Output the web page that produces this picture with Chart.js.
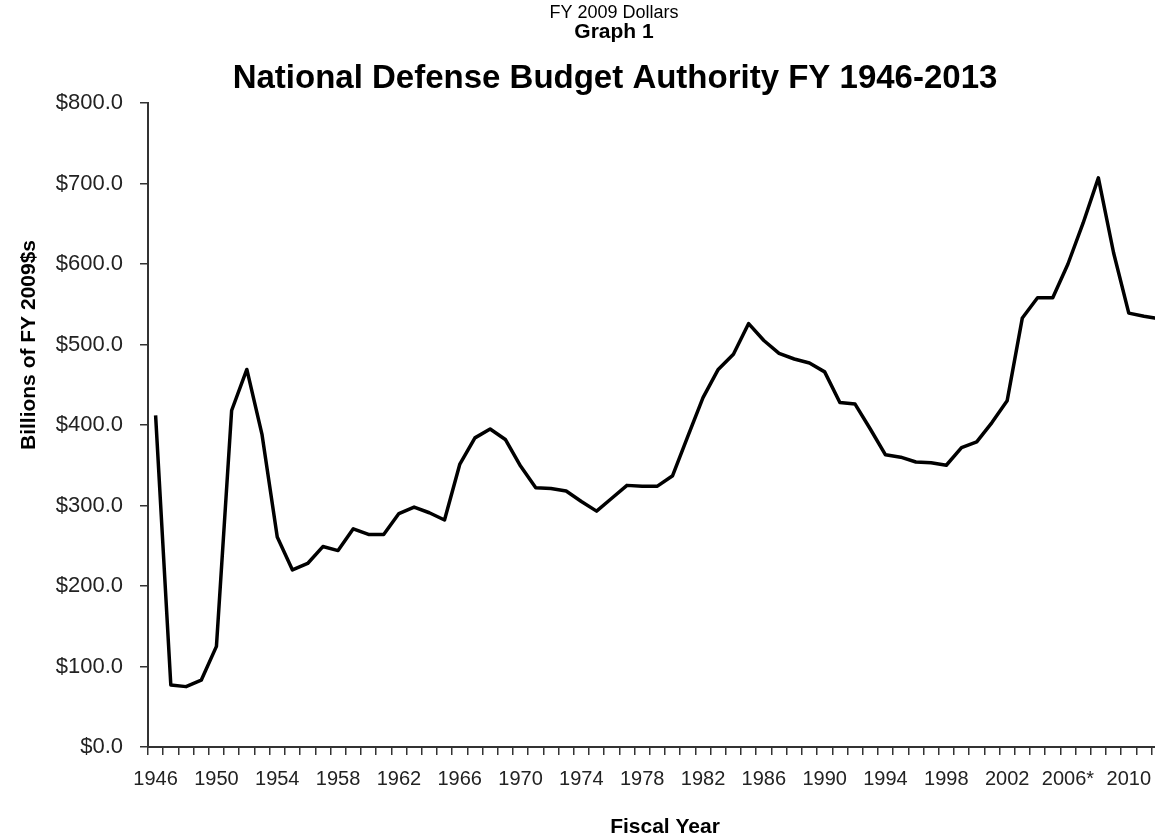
<!DOCTYPE html>
<html>
<head>
<meta charset="utf-8">
<script src="https://cdn.jsdelivr.net/npm/chart.js@4.4.0/dist/chart.umd.min.js"></script>
<style>
  html, body { margin: 0; padding: 0; background: #fff; overflow: hidden; }
  #wrap { position: relative; width: 1190px; height: 837px; }
</style>
</head>
<body>
<div id="wrap"><canvas id="budget"></canvas></div>
<script>
// fiscal years, 2006 carries the asterisk like the original axis
var years = ['1946', '1947', '1948', '1949', '1950', '1951', '1952', '1953', '1954', '1955',
  '1956', '1957', '1958', '1959', '1960', '1961', '1962', '1963', '1964', '1965',
  '1966', '1967', '1968', '1969', '1970', '1971', '1972', '1973', '1974', '1975',
  '1976', '1977', '1978', '1979', '1980', '1981', '1982', '1983', '1984', '1985',
  '1986', '1987', '1988', '1989', '1990', '1991', '1992', '1993', '1994', '1995',
  '1996', '1997', '1998', '1999', '2000', '2001', '2002', '2003', '2004', '2005',
  '2006*', '2007', '2008', '2009', '2010', '2011', '2012', '2013'];

// billions of FY 2009 dollars
var budget = [412, 77, 75, 83, 125, 418, 469, 388, 261, 220,
  228, 249, 244, 271, 264, 264, 290, 298, 291, 282,
  351, 384, 395, 382, 349, 322, 321, 318, 305, 293,
  309, 325, 324, 324, 337, 386, 434, 469, 488, 526,
  505, 489, 482, 477, 466, 428, 426, 395, 363, 360,
  354, 353, 350, 372, 379, 403, 430, 533, 558, 558,
  600, 651, 707, 614, 539, 535, 532, 528];

var yMin = 0;
var yMax = 800;
var yStep = 100;
var labelEvery = 4;

var subTitle = 'FY 2009 Dollars';
var graphLabel = 'Graph 1';
var mainTitle = 'National Defense Budget Authority FY 1946-2013';
var yTitle = 'Billions of FY 2009$s';
var xTitle = 'Fiscal Year';

var fontFam = '"Liberation Sans", Arial, sans-serif';

var headers = {
  id: 'headers',
  afterDraw: function (chart) {
    var c = chart.ctx;
    c.save();
    c.fillStyle = '#000';
    c.textAlign = 'center';
    c.textBaseline = 'alphabetic';
    c.font = '18px ' + fontFam;
    c.fillText(subTitle, 614, 18);
    c.font = 'bold 21px ' + fontFam;
    c.fillText(graphLabel, 614, 38);
    c.font = 'bold 33px ' + fontFam;
    c.fillText(mainTitle, 615, 88);
    c.translate(29, 345);
    c.rotate(-Math.PI / 2);
    c.textBaseline = 'middle';
    c.font = 'bold 21px ' + fontFam;
    c.fillText(yTitle, 0, 0);
    c.restore();
  }
};

new Chart(document.getElementById('budget'), {
  type: 'line',
  data: {
    labels: years,
    datasets: [
      {
        data: budget,
        borderColor: '#000',
        borderWidth: 3.5,
        borderJoinStyle: 'round',
        pointRadius: 0,
        tension: 0,
        fill: false,
      },
    ],
  },
  options: {
    responsive: true,
    maintainAspectRatio: false,
    animation: false,
    layout: { padding: { top: 103, left: 0, right: 8, bottom: 0 } },
    plugins: {
      legend: { display: false },
      tooltip: { enabled: false },
    },
    scales: {
      x: {
        offset: true,
        grid: { offset: true, drawOnChartArea: false, tickLength: 8, color: '#333', lineWidth: 1.5 },
        border: { color: '#333', width: 2 },
        ticks: {
          autoSkip: false,
          maxRotation: 0,
          padding: 12,
          color: '#222',
          font: { family: fontFam, size: 20 },
          callback: function (val, i) {
            return i % labelEvery === 0 ? years[i] : '';
          },
        },
        title: {
          display: true,
          text: xTitle,
          color: '#000',
          font: { family: fontFam, size: 21, weight: 'bold' },
          padding: { top: 0, bottom: -3 },
        },
        afterFit: function (scale) {
          scale.height = 90;
        },
      },
      y: {
        min: yMin,
        max: yMax,
        grid: { drawOnChartArea: false, tickLength: 8, color: '#333', lineWidth: 1.5 },
        border: { color: '#333', width: 2 },
        ticks: {
          stepSize: yStep,
          padding: 17,
          color: '#222',
          font: { family: fontFam, size: 22 },
          callback: function (v) {
            return '$' + v.toFixed(1);
          },
        },
        afterFit: function (scale) {
          scale.width = 148;
        },
      },
    },
  },
  plugins: [headers],
});
</script>
</body>
</html>
